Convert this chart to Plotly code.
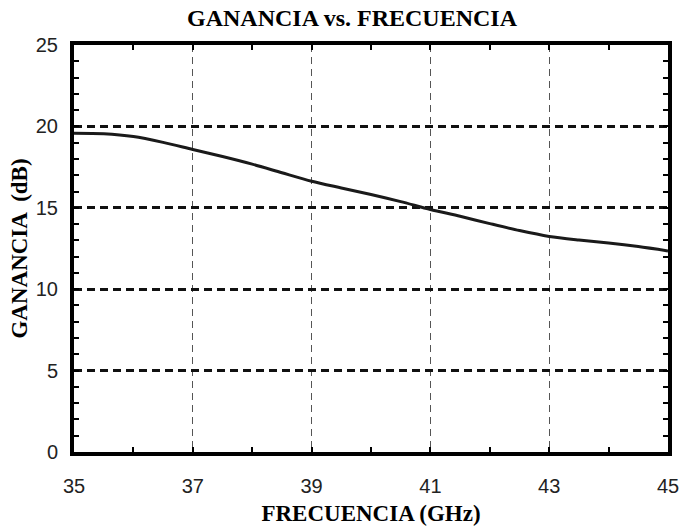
import plotly.graph_objects as go

freq_ghz = [35, 35.5, 36, 36.5, 37, 37.5, 38, 38.5, 39, 39.5, 40, 40.5,
            41, 41.5, 42, 42.5, 43, 43.5, 44, 44.5, 45]
gain_db = [19.58, 19.55, 19.38, 19.02, 18.58, 18.15, 17.68, 17.15, 16.63, 16.22,
           15.82, 15.38, 14.9, 14.48, 14.03, 13.6, 13.24, 13.02, 12.84, 12.62, 12.35]

x_ticks = [35, 37, 39, 41, 43, 45]
y_ticks = [0, 5, 10, 15, 20, 25]

W, H = 681, 528

fig = go.Figure()
fig.add_trace(go.Scatter(
    x=freq_ghz, y=gain_db, mode="lines",
    line=dict(color="#1a1a1a", width=3, shape="spline", smoothing=0.8),
    showlegend=False, hoverinfo="skip",
))

serif = "Liberation Serif"
sans = "Liberation Sans"

fig.update_layout(
    width=W, height=H,
    margin=dict(l=74, r=13, t=45, b=76, autoexpand=False),
    paper_bgcolor="white", plot_bgcolor="white",
    title=dict(text="<b>GANANCIA vs. FRECUENCIA</b>", x=352 / W, xref="container", xanchor="center",
               y=1 - 18 / H, yref="container", yanchor="middle",
               font=dict(family=serif, size=24, color="black")),
    xaxis=dict(
        range=[35, 45], tickvals=x_ticks, ticktext=[str(v) for v in x_ticks],
        automargin=False,
        showline=True, linecolor="black", linewidth=4, mirror="allticks",
        ticks="inside", ticklen=5, tickwidth=1.5, tickcolor="black",
        minor=dict(dtick=1, ticks="inside", ticklen=5, tickwidth=1.5, tickcolor="black", showgrid=False),
        showgrid=True, gridcolor="#555555", gridwidth=1.2, griddash="7px,5px",
        zeroline=False, ticklabelstandoff=13,
        tickfont=dict(family=sans, size=20, color="#222222"),
        title=dict(text="<b>FRECUENCIA (GHz)</b>", font=dict(family=serif, size=23, color="black"), standoff=10),
    ),
    yaxis=dict(
        range=[0, 25], tickvals=y_ticks, ticktext=[str(v) for v in y_ticks],
        automargin=False,
        showline=True, linecolor="black", linewidth=4, mirror="allticks",
        ticks="inside", ticklen=5, tickwidth=1.5, tickcolor="black",
        minor=dict(dtick=1, ticks="inside", ticklen=5, tickwidth=1.5, tickcolor="black", showgrid=False),
        showgrid=True, gridcolor="#111111", gridwidth=2.5, griddash="8px,5px",
        zeroline=False, ticklabelstandoff=8,
        tickfont=dict(family=sans, size=20, color="#222222"),
        title=dict(text="<b>GANANCIA  (dB)</b>", font=dict(family=serif, size=23, color="black"), standoff=3),
    ),
)

fig.write_html(
    "out.html",
    config={"displayModeBar": False, "responsive": False},
    post_script="document.body.style.margin='0';document.documentElement.style.overflow='hidden';",
)
